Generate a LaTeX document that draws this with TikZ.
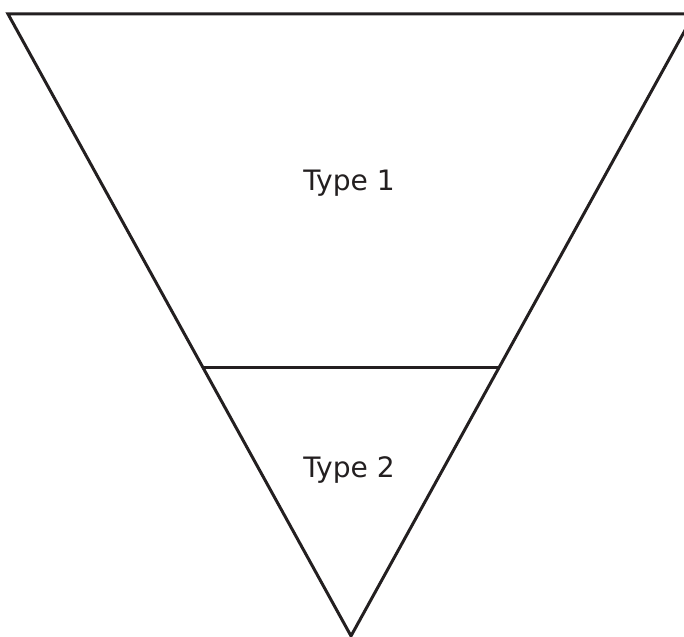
\documentclass[tikz,border=0pt]{standalone}
\usepackage{fontspec}
\setmainfont{DejaVu Sans}
\usepackage{tikz}
\definecolor{ink}{HTML}{231F20}
\tikzset{
  edge/.style={draw=ink, line width=1.7pt, line join=miter},
  label/.style={text=ink, font=\fontsize{16}{19}\selectfont, inner sep=0pt}
}

\begin{document}
\begin{tikzpicture}
    \useasboundingbox (0,0) rectangle (13.68,12.74);
    \clip (0,0) rectangle (13.68,12.74);
    % corners of the funnel
    \coordinate (topleft) at (0.16,12.46);
    \coordinate (topright) at (13.88,12.46);
    \coordinate (apex) at (7.02,0.02);
    \coordinate (splitleft) at (4.08,5.38);
    \coordinate (splitright) at (9.96,5.38);
    \draw[edge] (topleft) -- (topright) -- (apex) -- cycle;
    \draw[edge] (splitleft) -- (splitright);
    \node[label] (typeone) at (6.98,9.08) {Type 1};
    \node[label] (typetwo) at (6.98,3.34) {Type 2};
  \end{tikzpicture}
\end{document}
